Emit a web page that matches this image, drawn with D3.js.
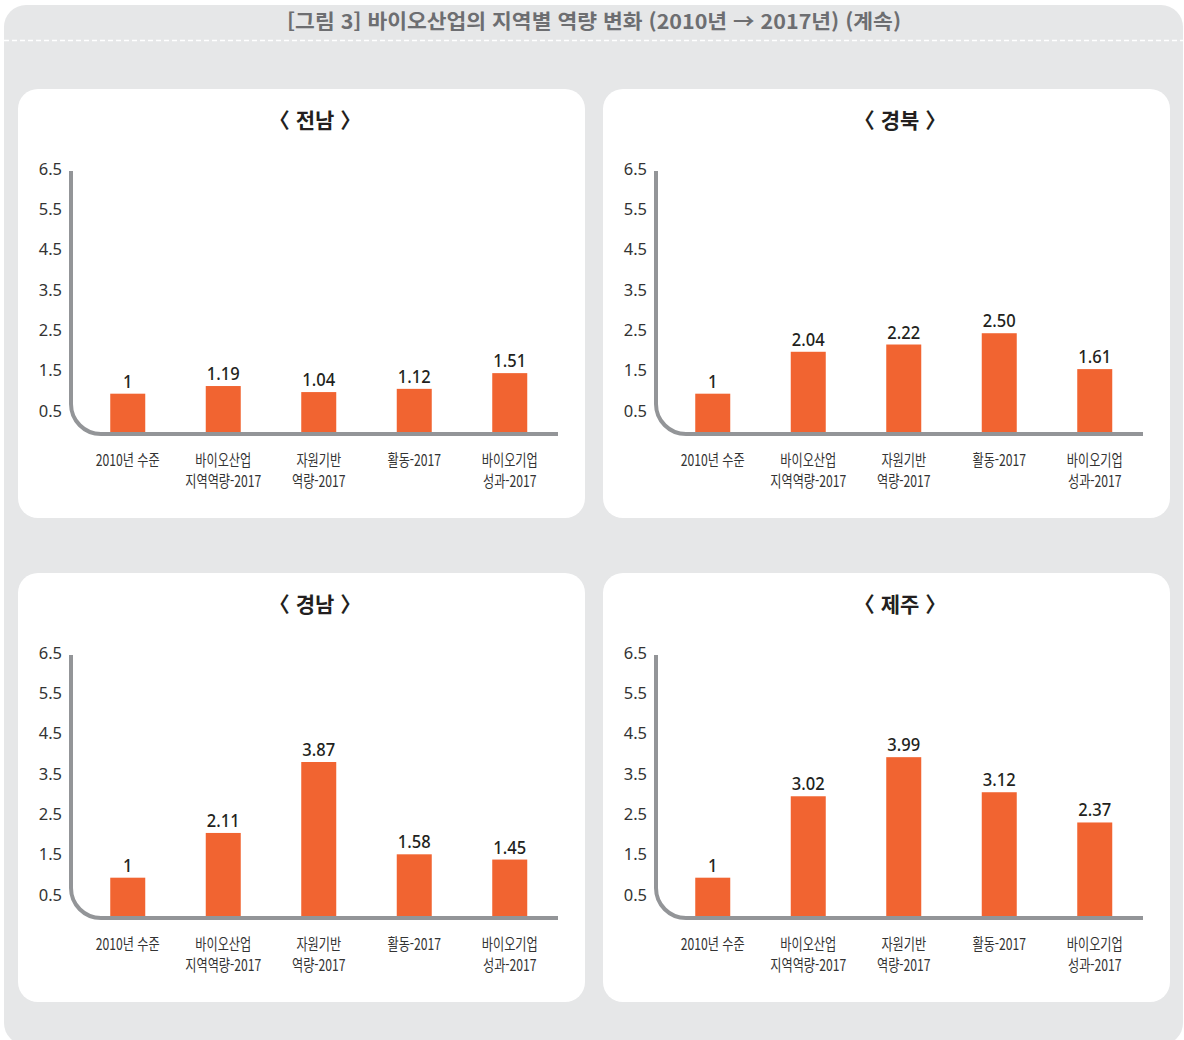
<!DOCTYPE html>
<html lang="ko">
<head>
<meta charset="utf-8">
<script src="https://cdn.jsdelivr.net/npm/d3@7"></script>
<style>
  html, body { margin: 0; padding: 0; background: #ffffff; }
  svg { display: block; }
</style>
</head>
<body>
<svg id="chart" width="1184" height="1040"></svg>
<script>
// Figure title and panel regions
const figureTitle = "[그림 3] 바이오산업의 지역별 역량 변화 (2010년 → 2017년) (계속)";
const regions = ["전남", "경북", "경남", "제주"];

// Category labels (each entry is one or two lines)
const categories = [
  ["2010년 수준"],
  ["바이오산업", "지역역량-2017"],
  ["자원기반", "역량-2017"],
  ["활동-2017"],
  ["바이오기업", "성과-2017"]
];

// Capability index per region
const valuesJeonnam   = [1, 1.19, 1.04, 1.12, 1.51];
const valuesGyeongbuk = [1, 2.04, 2.22, 2.50, 1.61];
const valuesGyeongnam = [1, 2.11, 3.87, 1.58, 1.45];
const valuesJeju      = [1, 3.02, 3.99, 3.12, 2.37];

// Y-axis tick labels
const yTicks = [0.5, 1.5, 2.5, 3.5, 4.5, 5.5, 6.5];

const seriesList = [valuesJeonnam, valuesGyeongbuk, valuesGyeongnam, valuesJeju];

const svg = d3.select("#chart");
const KR = "'Noto Sans CJK KR', 'Noto Sans', sans-serif";
const barColor = "#f16431";
const axisColor = "#939598";
const textColor = "#333333";

// Outer grey frame
svg.append("rect")
  .attr("x", 4).attr("y", 5)
  .attr("width", 1179).attr("height", 1040)
  .attr("rx", 22)
  .attr("fill", "#e6e7e8");

// Figure heading
svg.append("text")
  .attr("x", 594).attr("y", 29)
  .attr("text-anchor", "middle")
  .attr("font-family", KR)
  .attr("font-weight", 700)
  .attr("font-size", 20)
  .attr("fill", "#6d6e71")
  .attr("textLength", 614)
  .attr("lengthAdjust", "spacingAndGlyphs")
  .text(figureTitle);

// Dashed separator under the heading
svg.append("line")
  .attr("x1", 4).attr("x2", 1184)
  .attr("y1", 40.5).attr("y2", 40.5)
  .attr("stroke", "#ffffff")
  .attr("stroke-width", 1.5)
  .attr("stroke-dasharray", "5,3");

// Panel geometry
const panelW = 567, panelH = 429;
const panelOrigins = [[18, 89], [603, 89], [18, 573], [603, 573]];

const x = d3.scaleBand()
  .domain(d3.range(categories.length))
  .range([62, 539.5])
  .paddingInner(0.6335)
  .paddingOuter(0.31675);

const y = d3.scaleLinear()
  .domain([0, 6.5])
  .range([345, 83]);

const fmt = v => (Number.isInteger(v) ? String(v) : d3.format(".2f")(v));

regions.forEach((region, i) => {
  const values = seriesList[i];
  const [ox, oy] = panelOrigins[i];
  const g = svg.append("g").attr("transform", `translate(${ox},${oy})`);

  g.append("rect")
    .attr("width", panelW).attr("height", panelH)
    .attr("rx", 20)
    .attr("fill", "#ffffff");

  // Panel heading
  g.append("text")
    .attr("x", 297).attr("y", 39)
    .attr("text-anchor", "middle")
    .attr("font-family", KR)
    .attr("font-weight", 700)
    .attr("font-size", 21)
    .attr("fill", "#231f20")
    .text(`〈 ${region} 〉`);

  // Y tick labels
  g.append("g")
    .selectAll("text")
    .data(yTicks)
    .join("text")
    .attr("x", 44)
    .attr("y", d => y(d) - 3)
    .attr("dy", "0.35em")
    .attr("text-anchor", "end")
    .attr("font-family", "'Noto Sans', sans-serif")
    .attr("font-size", 16.5)
    .attr("fill", textColor)
    .text(d => d3.format(".1f")(d));

  // Bars
  g.append("g")
    .selectAll("rect")
    .data(values)
    .join("rect")
    .attr("x", (d, j) => x(j))
    .attr("width", x.bandwidth())
    .attr("y", d => y(d))
    .attr("height", d => y(0) - y(d))
    .attr("fill", barColor);

  // Axis line with rounded corner
  const r = 30, left = 53, top = 82, right = 540, base = y(0);
  g.append("path")
    .attr("d", `M${left},${top} V${base - r} A${r},${r} 0 0 0 ${left + r},${base} H${right}`)
    .attr("fill", "none")
    .attr("stroke", axisColor)
    .attr("stroke-width", 4);

  // Value labels
  g.append("g")
    .selectAll("text")
    .data(values)
    .join("text")
    .attr("transform", (d, j) => `translate(${x(j) + x.bandwidth() / 2},${y(d) - 6}) scale(0.92,1)`)
    .attr("text-anchor", "middle")
    .attr("font-family", "'Noto Sans', sans-serif")
    .attr("font-weight", 500)
    .attr("font-size", 18)
    .attr("fill", "#231f20")
    .text(d => fmt(d));

  // Category labels
  const cat = g.append("g")
    .selectAll("g")
    .data(categories)
    .join("g")
    .attr("transform", (d, j) => `translate(${x(j) + x.bandwidth() / 2},377)`);
  cat.selectAll("text")
    .data(d => d)
    .join("text")
    .attr("transform", (d, k) => `translate(0,${k * 21}) scale(0.76,1)`)
    .attr("text-anchor", "middle")
    .attr("font-family", KR)
    .attr("font-size", 16)
    .attr("fill", textColor)
    .text(d => d);
});
</script>
</body>
</html>
